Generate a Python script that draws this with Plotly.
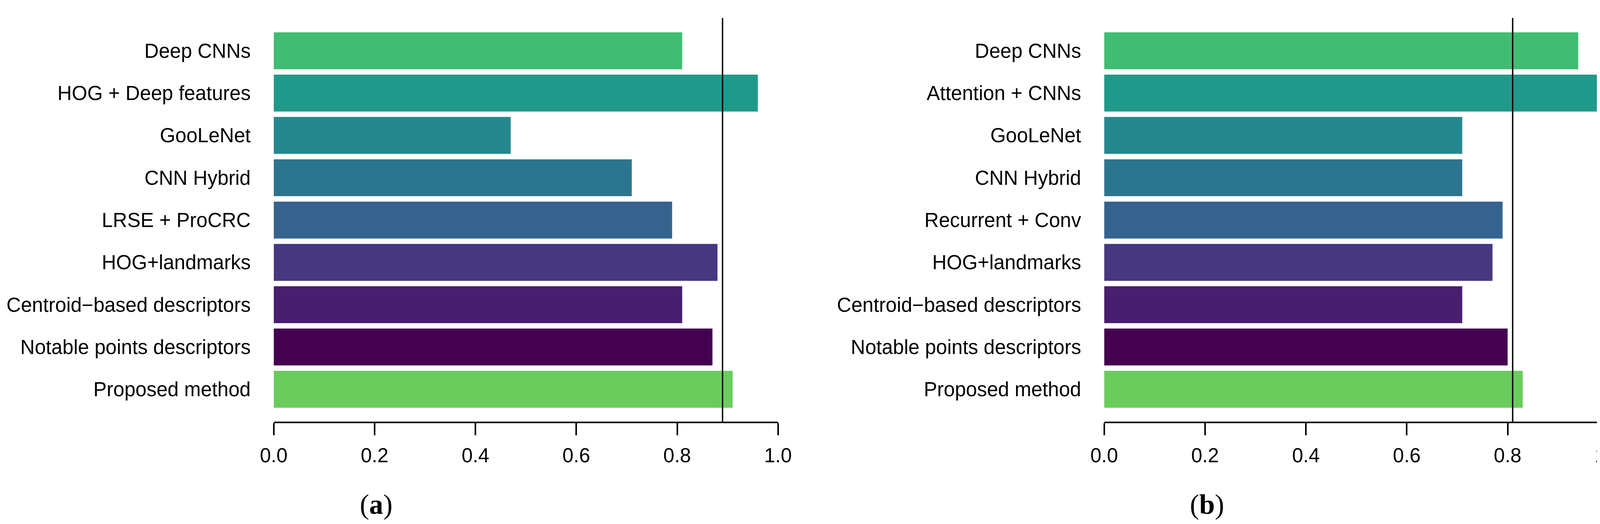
import plotly.graph_objects as go

# ---- data ----
labels_a = ["Deep CNNs", "HOG + Deep features", "GooLeNet", "CNN Hybrid", "LRSE + ProCRC",
            "HOG+landmarks", "Centroid\u2212based descriptors", "Notable points descriptors",
            "Proposed method"]
values_a = [0.81, 0.96, 0.47, 0.71, 0.79, 0.88, 0.81, 0.87, 0.91]
threshold_a = 0.89

labels_b = ["Deep CNNs", "Attention + CNNs", "GooLeNet", "CNN Hybrid", "Recurrent + Conv",
            "HOG+landmarks", "Centroid\u2212based descriptors", "Notable points descriptors",
            "Proposed method"]
values_b = [0.94, 0.98, 0.71, 0.71, 0.79, 0.77, 0.71, 0.80, 0.83]
threshold_b = 0.81

bar_colors = ["#41BC73", "#20998B", "#25878E", "#2B758E", "#36638D",
              "#46377F", "#481E6E", "#440150", "#6ACC5C"]

x_ticks = [0.0, 0.2, 0.4, 0.6, 0.8, 1.0]
x_ticktext = ["0.0", "0.2", "0.4", "0.6", "0.8", "1.0"]
panel_tags = ["a", "b"]

# ---- figure ----
# page body has an 8px default margin; shrink the figure so it fits the window exactly
OFF = 8
W, H = 4170 - 2 * OFF, 1341 - 2 * OFF

def px_x(x):  # window pixel -> paper fraction
    return (x - OFF) / W

def px_y(y):
    return 1 - (y - OFF) / H

fig = go.Figure()

fig.add_trace(go.Bar(y=labels_a, x=values_a, orientation="h",
                     marker=dict(color=bar_colors, line=dict(width=0)),
                     xaxis="x", yaxis="y", showlegend=False, hoverinfo="skip"))
fig.add_trace(go.Bar(y=labels_b, x=values_b, orientation="h",
                     marker=dict(color=bar_colors, line=dict(width=0)),
                     xaxis="x2", yaxis="y2", showlegend=False, hoverinfo="skip"))

tick_font = dict(family="Liberation Sans, Arial, sans-serif", size=51, color="black")
ydom = [px_y(1079), px_y(46)]

def xaxis_cfg(dom, anchor):
    return dict(domain=dom, anchor=anchor, range=[0, 1], showgrid=False, zeroline=False,
                showline=True, linecolor="black", linewidth=3.5,
                ticks="outside", ticklen=31, tickwidth=3.5, tickcolor="black",
                tickvals=x_ticks, ticktext=x_ticktext, tickfont=tick_font,
                ticklabelstandoff=8, automargin=False, fixedrange=True)

def yaxis_cfg(anchor, labels):
    return dict(domain=ydom, anchor=anchor, type="category",
                categoryorder="array", categoryarray=list(reversed(labels)),
                range=[-0.764, 8.776], showgrid=False, zeroline=False, showline=False,
                ticks="", tickfont=tick_font, ticklabelstandoff=58,
                automargin=False, fixedrange=True)

fig.update_layout(
    template="none",
    width=W, height=H, autosize=False,
    margin=dict(l=0, r=0, t=0, b=0, pad=0),
    paper_bgcolor="white", plot_bgcolor="white",
    bargap=0.1274,
    showlegend=False,
    xaxis=xaxis_cfg([px_x(700.7), px_x(1991.7)], "y"),
    yaxis=yaxis_cfg("x", labels_a),
    xaxis2=xaxis_cfg([px_x(2826.7), px_x(4117.7)], "y2"),
    yaxis2=yaxis_cfg("x2", labels_b),
)

for xr, yr, thr in [("x", "y domain", threshold_a), ("x2", "y2 domain", threshold_b)]:
    fig.add_shape(type="line", xref=xr, yref=yr, x0=thr, x1=thr, y0=0, y1=1,
                  line=dict(color="black", width=3.5), layer="above")

for tag, xc in zip(panel_tags, [963, 3090]):
    fig.add_annotation(xref="paper", yref="paper", x=px_x(xc), y=px_y(1291),
                       text="(<b>%s</b>)" % tag, showarrow=False,
                       xanchor="center", yanchor="middle",
                       font=dict(family="Liberation Serif, Times New Roman, serif",
                                 size=72, color="black"))

fig.write_html("out.html", config={"displayModeBar": False},
               post_script="document.documentElement.style.overflow='hidden';"
                           "document.body.style.overflow='hidden';")
